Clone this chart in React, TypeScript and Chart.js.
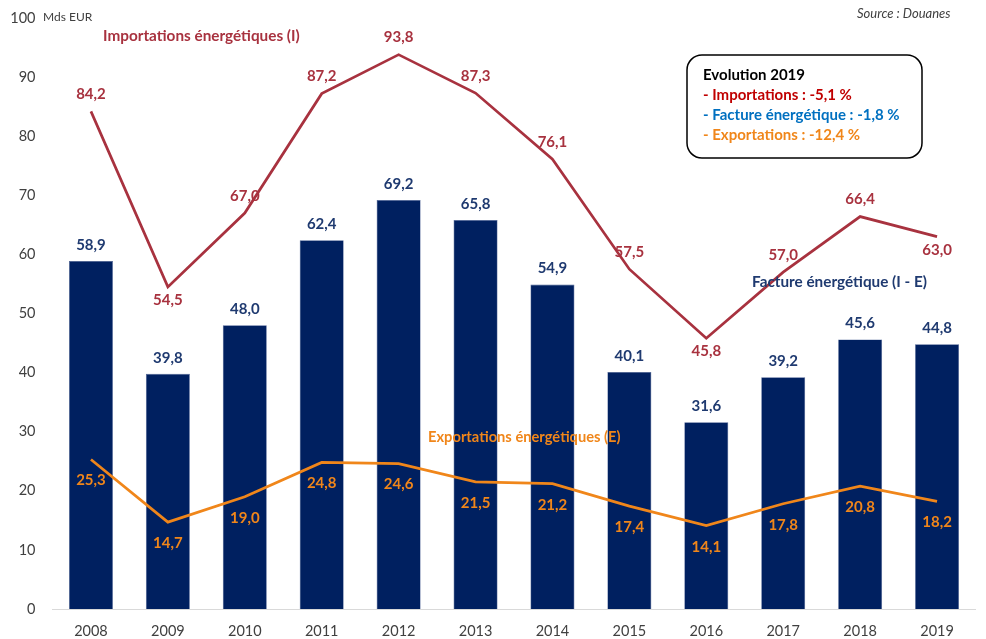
import React, { useEffect, useRef } from "react";
import { Chart, registerables } from "chart.js";

Chart.register(...registerables);

const years = ["2008", "2009", "2010", "2011", "2012", "2013", "2014", "2015", "2016", "2017", "2018", "2019"];
const facture = [58.9, 39.8, 48.0, 62.4, 69.2, 65.8, 54.9, 40.1, 31.6, 39.2, 45.6, 44.8];
const importations = [84.2, 54.5, 67.0, 87.2, 93.8, 87.3, 76.1, 57.5, 45.8, 57.0, 66.4, 63.0];
const exportations = [25.3, 14.7, 19.0, 24.8, 24.6, 21.5, 21.2, 17.4, 14.1, 17.8, 20.8, 18.2];
const yTicks = [0, 10, 20, 30, 40, 50, 60, 70, 80, 90, 100];

const NAVY = "#002060";
const NAVY_LABEL = "#1f3a70";
const RED = "#a8323f";
const ORANGE = "#f0861a";
const FONT = "Lato, 'Open Sans', sans-serif";

const fmt = (v: number) => v.toFixed(1).replace(".", ",");

const labelsPlugin = {
  id: "valueLabels",
  afterDatasetsDraw(chart: any) {
    const ctx = chart.ctx;
    ctx.save();
    ctx.font = `bold 15px ${FONT}`;
    ctx.textAlign = "center";
    ctx.textBaseline = "middle";
    chart.data.datasets.forEach((ds: any, di: number) => {
      const meta = chart.getDatasetMeta(di);
      meta.data.forEach((el: any, i: number) => {
        const v = ds.data[i];
        let y = el.y;
        if (ds.label === "facture") {
          ctx.fillStyle = NAVY_LABEL;
          y = el.y - 16;
        } else if (ds.label === "imports") {
          ctx.fillStyle = RED;
          const prev = i > 0 ? ds.data[i - 1] : Infinity;
          const next = i < ds.data.length - 1 ? ds.data[i + 1] : Infinity;
          const isMin = v < prev && v < next;
          y = isMin ? el.y + 13 : el.y - 17;
        } else {
          ctx.fillStyle = ORANGE;
          y = el.y + 21;
        }
        ctx.fillText(fmt(v), el.x, y);
      });
    });
    ctx.restore();
  },
  afterDraw(chart: any) {
    const ctx = chart.ctx;
    ctx.save();
    ctx.textBaseline = "middle";
    ctx.textAlign = "left";
    ctx.font = `12px ${FONT}`;
    ctx.fillStyle = "#404040";
    ctx.fillText("Mds EUR", 43, 17);
    ctx.font = `italic 13px ${FONT}`;
    ctx.fillStyle = "#404040";
    ctx.fillText("Source : Douanes", 857, 14);
    ctx.font = `bold 15.3px ${FONT}`;
    ctx.fillStyle = RED;
    ctx.fillText("Importations énergétiques (I)", 103, 36);
    ctx.fillStyle = NAVY_LABEL;
    ctx.fillText("Facture énergétique (I - E)", 752, 282);
    ctx.font = `bold 14.7px ${FONT}`;
    ctx.fillStyle = ORANGE;
    ctx.fillText("Exportations énergétiques (E)", 428, 437);
    const bx = 687, by = 55, bw = 235, bh = 103, r = 15;
    ctx.beginPath();
    ctx.moveTo(bx + r, by);
    ctx.lineTo(bx + bw - r, by);
    ctx.arcTo(bx + bw, by, bx + bw, by + r, r);
    ctx.lineTo(bx + bw, by + bh - r);
    ctx.arcTo(bx + bw, by + bh, bx + bw - r, by + bh, r);
    ctx.lineTo(bx + r, by + bh);
    ctx.arcTo(bx, by + bh, bx, by + bh - r, r);
    ctx.lineTo(bx, by + r);
    ctx.arcTo(bx, by, bx + r, by, r);
    ctx.closePath();
    ctx.fillStyle = "#ffffff";
    ctx.fill();
    ctx.lineWidth = 1.5;
    ctx.strokeStyle = "#000000";
    ctx.stroke();
    ctx.font = `bold 15px ${FONT}`;
    ctx.fillStyle = "#000000";
    ctx.fillText("Evolution 2019", 703, 75);
    ctx.fillStyle = "#c00000";
    ctx.fillText("- Importations : -5,1 %", 703, 95);
    ctx.fillStyle = "#0070c0";
    ctx.fillText("- Facture énergétique : -1,8 %", 703, 115);
    ctx.fillStyle = ORANGE;
    ctx.fillText("- Exportations : -12,4 %", 703, 135);
    ctx.restore();
  },
};

export default function App() {
  const ref = useRef<HTMLCanvasElement>(null);
  useEffect(() => {
    document.body.style.margin = "0";
    if (!ref.current) return;
    const chart = new Chart(ref.current, {
      type: "bar",
      data: {
        labels: years,
        datasets: [
          {
            type: "line",
            label: "imports",
            data: importations,
            borderColor: RED,
            borderWidth: 2.7,
            pointRadius: 0,
            tension: 0,
            order: 0,
          } as any,
          {
            type: "line",
            label: "exports",
            data: exportations,
            borderColor: ORANGE,
            borderWidth: 2.7,
            pointRadius: 0,
            tension: 0,
            order: 0,
          } as any,
          {
            type: "bar",
            label: "facture",
            data: facture,
            backgroundColor: NAVY,
            borderColor: "#4a5f92",
            borderWidth: 0.6,
            borderSkipped: "bottom",
            categoryPercentage: 1,
            barPercentage: 0.572,
            order: 1,
          } as any,
        ],
      },
      options: {
        animation: false,
        responsive: false,
        maintainAspectRatio: false,
        layout: { padding: { top: 18, right: 10.5, left: 0, bottom: 0 } },
        plugins: { legend: { display: false }, tooltip: { enabled: false } },
        scales: {
          x: {
            grid: { display: false },
            border: { display: true, color: "#d9d9d9", width: 1 },
            ticks: { font: { family: FONT, size: 14.5 }, color: "#404040", padding: 6, maxRotation: 0 },
            afterFit: (s: any) => {
              s.height = 30;
            },
          },
          y: {
            min: 0,
            max: 100,
            afterBuildTicks: (s: any) => {
              s.ticks = yTicks.map((v) => ({ value: v }));
            },
            grid: { display: false },
            border: { display: false },
            ticks: { font: { family: FONT, size: 14.5 }, color: "#404040", padding: 9 },
            afterFit: (s: any) => {
              s.width = 52.5;
            },
          },
        },
      },
      plugins: [labelsPlugin],
    });
    return () => chart.destroy();
  }, []);
  return (
    <div style={{ width: 986, height: 639, background: "#fff" }}>
      <canvas ref={ref} width={986} height={639} style={{ display: "block" }} />
    </div>
  );
}
